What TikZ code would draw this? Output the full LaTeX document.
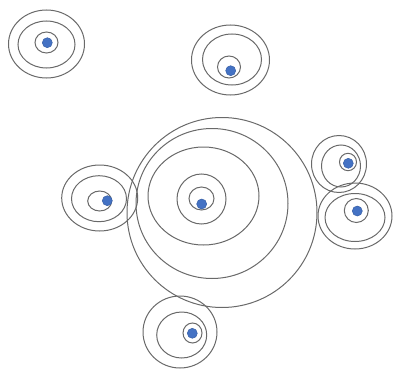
\documentclass[tikz,border=0pt]{standalone}
\definecolor{ringc}{RGB}{105,105,105}
\definecolor{dotc}{RGB}{68,114,196}
\definecolor{dotd}{RGB}{55,95,165}
\tikzset{
  ring/.style={draw=ringc, line width=1pt},
  dot/.style={fill=dotc, draw=dotd, line width=0.5pt}
}
\begin{document}
\begin{tikzpicture}[x=1pt,y=-1pt]
\useasboundingbox (0,0) rectangle (393,369);
% top-left group
\draw[ring] (46.5,44) ellipse [x radius=38, y radius=34];
\draw[ring] (46.5,44.5) ellipse [x radius=28.5, y radius=23.5];
\draw[ring] (46.5,42.5) ellipse [x radius=11.5, y radius=10.5];
\draw[dot] (47.3,42.7) circle [radius=5];
% top-middle group
\draw[ring] (230.5,60) ellipse [x radius=39, y radius=35];
\draw[ring] (232,59.5) ellipse [x radius=29.5, y radius=25.5];
\draw[ring] (229,67) ellipse [x radius=11.5, y radius=11];
\draw[dot] (230.7,70.7) circle [radius=5];
% central group
\draw[ring] (222,212.5) circle [radius=95];
\draw[ring] (212,203.5) ellipse [x radius=76, y radius=75];
\draw[ring] (203.5,196) ellipse [x radius=55.5, y radius=49];
\draw[ring] (201.5,199) ellipse [x radius=24.5, y radius=25];
\draw[ring] (201.5,198.5) ellipse [x radius=12.5, y radius=11.5];
\draw[dot] (201.7,204) circle [radius=5];
% left group
\draw[ring] (99.7,198) ellipse [x radius=38, y radius=33];
\draw[ring] (99,198.7) ellipse [x radius=27.5, y radius=23];
\draw[ring] (99.7,201) ellipse [x radius=12, y radius=10];
\draw[dot] (107.3,200.7) circle [radius=5];
% right-top group
\draw[ring] (339,164) ellipse [x radius=27.5, y radius=28.5];
\draw[ring] (341,166) ellipse [x radius=19.5, y radius=21];
\draw[ring] (348,162) ellipse [x radius=8.5, y radius=8.7];
\draw[dot] (348.3,163.3) circle [radius=5];
% right-bottom group
\draw[ring] (355,216) ellipse [x radius=37, y radius=33];
\draw[ring] (355,217.5) ellipse [x radius=30, y radius=24];
\draw[ring] (356.3,210.5) ellipse [x radius=12, y radius=12];
\draw[dot] (357.3,211) circle [radius=5];
% bottom group
\draw[ring] (180,332) ellipse [x radius=37, y radius=36];
\draw[ring] (181.7,335) ellipse [x radius=25, y radius=23];
\draw[ring] (192.5,333) ellipse [x radius=9.5, y radius=10];
\draw[dot] (192.3,333.3) circle [radius=5];
\end{tikzpicture}
\end{document}
